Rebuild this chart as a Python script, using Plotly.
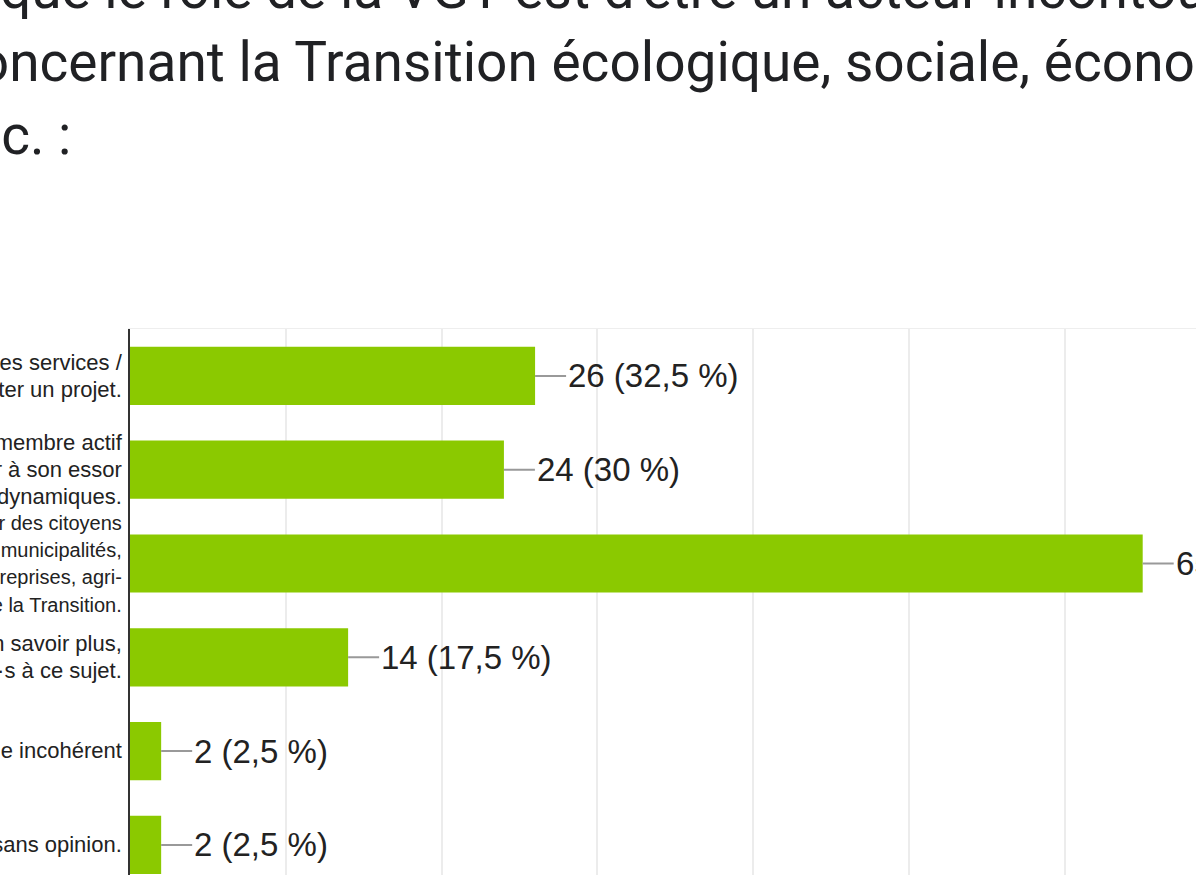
import plotly.graph_objects as go

# ---- data ----
categories = [
    "Un centre de ressources auquel je fais appel pour des services /<br>un accompagnement, pour m'aider à porter un projet.",
    "Une association dont je suis membre actif<br>et à laquelle je contribue pour participer à son essor<br>et à ses dynamiques.",
    "Un acteur fédérateur qui permet de rassembler des citoyens<br>les associations, les municipalités,<br>les entreprises, agri-<br>culteurs, etc. autour de la Transition.",
    "Je ne sais pas, j'aimerais en savoir plus,<br>être davantage informé·e·s à ce sujet.",
    "Je trouve ce rôle incohérent",
    "Je suis sans opinion.",
]
values = [26, 24, 65, 14, 2, 2]
percent_labels = ["32,5", "30", "81,3", "17,5", "2,5", "2,5"]
title_lines = [
    "Pensez-vous que le rôle de la VGT est d'être un acteur incontournable",
    "concernant la Transition écologique, sociale, économique,",
    "etc. :",
]

# ---- geometry helpers ----
W, H = 1196, 875
ML, MT = 130, 329
PW, PH = W - ML, H - MT


def px_x(px):
    return (px - ML) / PW


def px_y(py):
    return (H - py) / PH


BAR = "#8bc900"
TXT = "#222222"
ARIAL = "Arial, Liberation Sans, sans-serif"

ticktext = []
for i, c in enumerate(categories):
    size = 20 if i == 2 else 22
    ticktext.append(f'<span style="font-size:{size}px">' + c + "</span>")

fig = go.Figure()
fig.add_trace(
    go.Bar(
        x=values,
        y=list(range(len(categories))),
        orientation="h",
        marker=dict(color=BAR, line=dict(width=0)),
        hoverinfo="skip",
    )
)

annotations = []
for i, (v, p) in enumerate(zip(values, percent_labels)):
    annotations.append(
        dict(
            x=v, y=i, xref="x", yref="y",
            text=f"{v} ({p} %)",
            showarrow=True, arrowhead=0, arrowwidth=2, arrowcolor="#999999",
            ax=31, ay=0, standoff=0, startstandoff=0,
            xanchor="left", yanchor="middle",
            font=dict(family=ARIAL, size=33, color=TXT),
        )
    )

title_pos = [(-326, -11), (-53, 62), (-48, 135)]
for line, (lx, ly) in zip(title_lines, title_pos):
    annotations.append(
        dict(
            x=px_x(lx), y=px_y(ly), xref="paper", yref="paper",
            text=line, showarrow=False, xanchor="left", yanchor="middle",
            font=dict(family="Roboto, sans-serif", size=55, color="#202124"),
        )
    )

fig.update_layout(
    width=W, height=H,
    margin=dict(l=ML, r=0, t=MT, b=0, pad=0, autoexpand=False),
    paper_bgcolor="white", plot_bgcolor="white",
    showlegend=False,
    bargap=0.38,
    annotations=annotations,
    xaxis=dict(
        range=[0, (W - ML) / 15.58],
        dtick=10, tick0=0,
        showgrid=True, gridcolor="#ececec", gridwidth=1.5,
        zeroline=False, showticklabels=False, automargin=False,
        side="top", showline=True, linecolor="#eeeeee", linewidth=1,
    ),
    yaxis=dict(
        range=[-0.5 + (H - MT) / 93.8, -0.5],
        tickmode="array",
        tickvals=list(range(len(categories))),
        ticktext=ticktext,
        tickfont=dict(family=ARIAL, size=21, color=TXT),
        ticks="outside", ticklen=2, tickcolor="rgba(0,0,0,0)",
        showline=True, linecolor="#333333", linewidth=2,
        showgrid=False, zeroline=False, automargin=False,
    ),
)

fig.write_html(
    "out.html",
    config={"displayModeBar": False},
    post_script="document.body.style.margin='0';document.body.style.overflow='hidden';",
)
